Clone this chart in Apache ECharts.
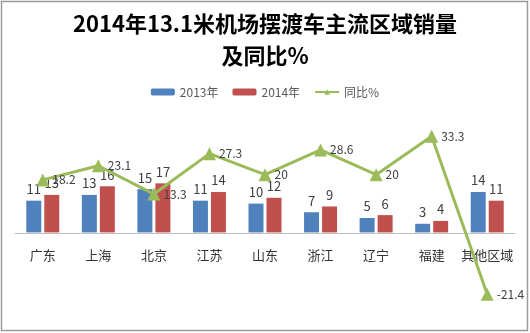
<!DOCTYPE html>
<html><head><meta charset="utf-8">
<script src="https://cdn.jsdelivr.net/npm/echarts@6/dist/echarts.min.js"></script>
<style>html,body{margin:0;padding:0;background:#fff}#c{width:530px;height:333px}</style>
</head><body><div id="c"></div>
<script>
var categories = ['广东','上海','北京','江苏','山东','浙江','辽宁','福建','其他区域'];
var sales2013 = [11,13,15,11,10,7,5,3,14];
var sales2014 = [13,16,17,14,12,9,6,4,11];
var yoy = [18.2,23.1,13.3,27.3,20,28.6,20,33.3,-21.4];
var F = '"Noto Sans CJK SC", sans-serif';
var chart = echarts.init(document.getElementById('c'));
chart.setOption({
  backgroundColor:'#fff',
  animation:false,
  title:{text:'2014年13.1米机场摆渡车主流区域销量\n及同比%',left:'center',top:3,
    textStyle:{fontFamily:F,fontSize:22,fontWeight:'bold',color:'#000',lineHeight:32}},
  legend:{top:81,left:'center',itemWidth:24,itemHeight:7,itemGap:14,
    textStyle:{fontFamily:F,fontSize:12,color:'#595959'},
    data:['2013年','2014年','同比%']},
  graphic:[{type:'rect',shape:{x:1.5,y:1.5,width:526,height:329},
    style:{fill:'none',stroke:'#9a9a9a',lineWidth:1.5},silent:true}],
  grid:{left:15,right:15,top:117,height:202,containLabel:false,outerBoundsMode:'none'},
  xAxis:{type:'category',data:categories,offset:-86,
    axisLine:{onZero:false,lineStyle:{color:'#bfbfbf',width:1}},
    axisTick:{show:false},
    axisLabel:{interval:0,fontFamily:F,fontSize:13,color:'#333',margin:16}},
  yAxis:{type:'value',min:-30,max:40,show:false,splitLine:{show:false}},
  series:[
    {name:'2013年',type:'bar',data:sales2013,barWidth:15,barGap:'20%',
      itemStyle:{color:'#4F81BD'},
      label:{show:true,position:'top',distance:5,fontFamily:F,fontSize:13,color:'#404040'}},
    {name:'2014年',type:'bar',data:sales2014,barWidth:15,
      itemStyle:{color:'#C0504D'},
      label:{show:true,position:'top',distance:5,fontFamily:F,fontSize:13,color:'#404040'}},
    {name:'同比%',type:'line',data:yoy,symbol:'triangle',symbolSize:13,
      lineStyle:{color:'#9BBB59',width:3},itemStyle:{color:'#9BBB59'},
      label:{show:true,position:'right',distance:3,fontFamily:F,fontSize:12,color:'#404040'},
      z:5}
  ]
});
</script></body></html>
